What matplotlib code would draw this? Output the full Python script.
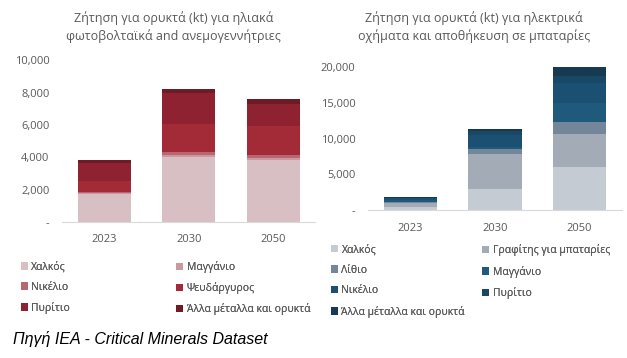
import numpy as np
import matplotlib.pyplot as plt

plt.rcParams['font.family'] = ['Open Sans', 'DejaVu Sans']

years = ["2023", "2030", "2050"]

# solar PV and wind (kt)
solar_labels = ["Χαλκός", "Μαγγάνιο", "Νικέλιο", "Ψευδάργυρος", "Πυρίτιο", "Άλλα μέταλλα και ορυκτά"]
solar_copper = [1750, 4000, 3800]
solar_manganese = [40, 150, 150]
solar_nickel = [60, 200, 200]
solar_zinc = [700, 1700, 1750]
solar_silicon = [1100, 1900, 1400]
solar_other = [150, 250, 300]
solar_colors = ["#D8BFC3", "#C9999E", "#B86670", "#A32A37", "#8E2231", "#6F1B25"]

# EVs and battery storage (kt)
ev_labels = ["Χαλκός", "Γραφίτης για μπαταρίες", "Λίθιο", "Μαγγάνιο", "Νικέλιο", "Πυρίτιο", "Άλλα μέταλλα και ορυκτά"]
ev_copper = [450, 2900, 6000]
ev_graphite = [550, 5000, 4600]
ev_lithium = [200, 700, 1700]
ev_manganese = [150, 200, 2650]
ev_nickel = [300, 1700, 2800]
ev_cobalt = [100, 600, 1000]
ev_other = [50, 250, 1200]
ev_colors = ["#C5CBD3", "#A3ABB6", "#74869A", "#1F5A7C", "#1C5072", "#194766", "#153A52"]

grey = "#595959"


def stacked(ax, series, labels, colors, ymax, step):
    x = np.arange(len(years))
    bottom = np.zeros(len(years))
    handles = []
    for vals, lab, col in zip(series, labels, colors):
        h = ax.bar(x, vals, 0.63, bottom=bottom, color=col, label=lab)
        handles.append(h)
        bottom += np.array(vals)
    ax.set_xlim(-0.5, 2.5)
    ax.set_ylim(0, ymax)
    ax.set_xticks(x)
    ax.set_xticklabels(years)
    ticks = np.arange(0, ymax + 1, step)
    ax.set_yticks(ticks)
    ax.set_yticklabels(["-" if t == 0 else f"{int(t):,}" for t in ticks])
    for s in ["top", "right", "left"]:
        ax.spines[s].set_visible(False)
    ax.spines["bottom"].set_color("#D9D9D9")
    ax.tick_params(length=0, colors=grey, labelsize=8, pad=9)
    return handles


def legend_col(handles, labels, x, y, spacing):
    leg = fig.legend(handles, labels, loc="upper left", bbox_to_anchor=(x, y),
                     frameon=False, fontsize=7.5, handlelength=0.7, handleheight=0.7,
                     handletextpad=0.3, labelspacing=spacing, labelcolor=grey,
                     borderpad=0, borderaxespad=0)
    fig.add_artist(leg)


fig = plt.figure(figsize=(6.27, 3.58), dpi=100)

ax1 = fig.add_axes([0.099, 0.380, 0.404, 0.452])
h1 = stacked(ax1, [solar_copper, solar_manganese, solar_nickel, solar_zinc, solar_silicon, solar_other],
             solar_labels, solar_colors, 10000, 2000)

ax2 = fig.add_axes([0.587, 0.413, 0.405, 0.400])
h2 = stacked(ax2, [ev_copper, ev_graphite, ev_lithium, ev_manganese, ev_nickel, ev_cobalt, ev_other],
             ev_labels, ev_colors, 20000, 5000)

fig.text(0.277, 0.925, "Ζήτηση για ορυκτά (kt) για ηλιακά\nφωτοβολταϊκά and ανεμογεννήτριες",
         ha="center", va="center", fontsize=9, color=grey, linespacing=1.4)
fig.text(0.756, 0.925, "Ζήτηση για ορυκτά (kt) για ηλεκτρικά\nοχήματα και αποθήκευση σε μπαταρίες",
         ha="center", va="center", fontsize=9, color=grey, linespacing=1.4)

# legends laid out row by row, two columns each
legend_col([h1[i] for i in (0, 2, 4)], [solar_labels[i] for i in (0, 2, 4)], 0.033, 0.270, 0.86)
legend_col([h1[i] for i in (1, 3, 5)], [solar_labels[i] for i in (1, 3, 5)], 0.281, 0.270, 0.86)
legend_col([h2[i] for i in (0, 2, 4, 6)], [ev_labels[i] for i in (0, 2, 4, 6)], 0.528, 0.318, 0.9)
legend_col([h2[i] for i in (1, 3, 5)], [ev_labels[i] for i in (1, 3, 5)], 0.769, 0.318, 0.9)

fig.text(0.02, 0.04, "Πηγή IEA - Critical Minerals Dataset", fontsize=11.5,
         style="italic", family=["Liberation Sans", "DejaVu Sans"], color="black")

fig.savefig("out.png", dpi=100)
